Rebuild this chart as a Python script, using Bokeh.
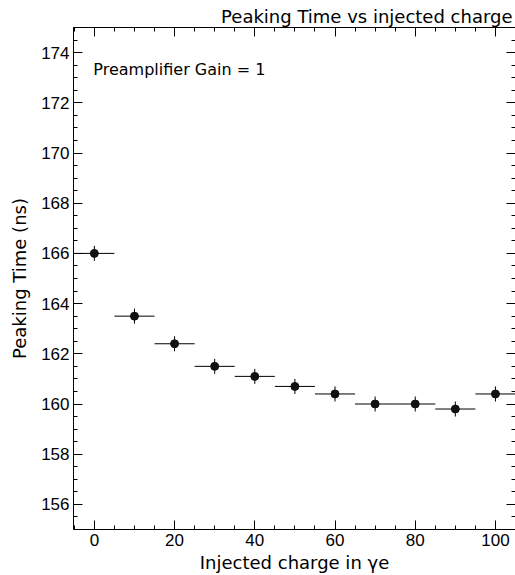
import numpy as np
from bokeh.plotting import figure
from bokeh.models import LinearAxis, FixedTicker, Label, ColumnDataSource
from bokeh.embed import file_html
from bokeh.resources import INLINE

# ---- data ----
charge = [0, 10, 20, 30, 40, 50, 60, 70, 80, 90, 100]
peaking_time = [166.0, 163.5, 162.4, 161.5, 161.1, 160.7, 160.4, 160.0, 160.0, 159.8, 160.4]
charge_err = [5, 5, 5, 5, 5, 5, 5, 5, 5, 5, 5]
time_err = [0.3, 0.3, 0.3, 0.3, 0.3, 0.3, 0.3, 0.3, 0.3, 0.3, 0.3]
x_ticks = [0, 20, 40, 60, 80, 100]
y_ticks = [156, 158, 160, 162, 164, 166, 168, 170, 172, 174]

title_text = "Peaking Time vs injected charge"
x_title = "Injected charge in \u03b3e"
y_title = "Peaking Time (ns)"
note_text = "Preamplifier Gain = 1"

FONT = "DejaVu Sans"
TICKFONT = "Liberation Sans"

x = np.array(charge, dtype=float)
y = np.array(peaking_time, dtype=float)
ex = np.array(charge_err, dtype=float)
ey = np.array(time_err, dtype=float)

src = ColumnDataSource(dict(x=x, y=y, x0=x - ex, x1=x + ex, y0=y - ey, y1=y + ey))

p = figure(width=515, height=575, x_range=(-5.2, 105), y_range=(155, 175),
           output_backend="svg", toolbar_location=None,
           min_border_left=73, min_border_right=0, min_border_top=27, min_border_bottom=44)
p.background_fill_color = "white"
p.border_fill_color = "white"
p.outline_line_color = None
p.xgrid.visible = False
p.ygrid.visible = False

xt = FixedTicker(ticks=x_ticks, minor_ticks=list(np.arange(-5, 106, 5)))
yt = FixedTicker(ticks=y_ticks, minor_ticks=list(np.arange(155, 175.01, 0.5)))

def style(ax, labels=True):
    ax.axis_line_color = "black"
    ax.axis_line_width = 1
    ax.major_tick_in = 9
    ax.major_tick_out = 0
    ax.minor_tick_in = 4
    ax.minor_tick_out = 0
    ax.major_tick_line_color = "black"
    ax.minor_tick_line_color = "black"
    if labels:
        ax.major_label_text_font = TICKFONT
        ax.major_label_text_font_size = "17px"
        ax.major_label_text_color = "black"
    else:
        ax.major_label_text_font_size = "1px"
        ax.major_label_text_color = None
        ax.major_label_standoff = 0

p.xaxis.ticker = xt
p.yaxis.ticker = yt
style(p.xaxis[0])
style(p.yaxis[0])
p.xaxis.major_label_standoff = 4
p.yaxis.major_label_standoff = 4
p.xaxis.axis_label = x_title
p.yaxis.axis_label = y_title
for ax in (p.xaxis[0], p.yaxis[0]):
    ax.axis_label_text_font = FONT
    ax.axis_label_text_font_size = "18px"
    ax.axis_label_text_font_style = "normal"
    ax.axis_label_text_color = "black"
p.xaxis.axis_label_standoff = 3
p.yaxis.axis_label_standoff = 8

top = LinearAxis(ticker=xt)
style(top, labels=False)
p.add_layout(top, "above")
right = LinearAxis(ticker=yt)
style(right, labels=False)
right.axis_line_color = None
p.add_layout(right, "right")

p.title.text = title_text
p.title.align = "right"
p.title.text_font = FONT
p.title.text_font_size = "18px"
p.title.text_font_style = "normal"
p.title.text_color = "black"
p.title.offset = 3
p.title.standoff = 2

# error bars
p.segment(x0="x0", y0="y", x1="x1", y1="y", source=src, line_color="black", line_width=1)
p.segment(x0="x", y0="y0", x1="x", y1="y1", source=src, line_color="black", line_width=1)
p.scatter(x="x", y="y", source=src, size=8, fill_color="#111111", line_color="#111111")

p.add_layout(Label(x=-0.25, y=173.33, text=note_text, text_font=FONT,
                   text_font_size="16px", text_baseline="alphabetic", text_color="black"))

open("out.html", "w").write(file_html(p, INLINE))
